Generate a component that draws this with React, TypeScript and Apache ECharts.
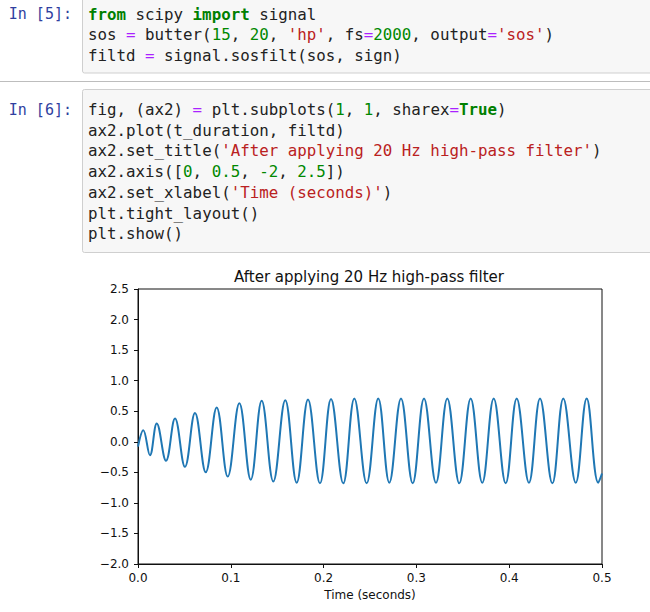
import React, { useEffect, useRef } from "react";
import * as echarts from "echarts";

// Time (s) of each sample (start, alternating peaks/troughs, end)
const timeSec = [
  0, 0.0057, 0.0129, 0.0202, 0.0302, 0.0399, 0.0506, 0.0614, 0.073, 0.0848,
  0.0967, 0.1092, 0.1215, 0.1333, 0.1458, 0.1587, 0.171, 0.1832, 0.1961, 0.208,
  0.2212, 0.2331, 0.2464, 0.2589, 0.2708, 0.2834, 0.296, 0.3082, 0.3211, 0.3333,
  0.3462, 0.3585, 0.371, 0.3833, 0.3962, 0.4081, 0.4213, 0.4332, 0.4465, 0.4583,
  0.4717, 0.4835, 0.496, 0.5,
];
// Filtered signal values at those times
const filtd = [
  -0.08, 0.19, -0.22, 0.3, -0.31, 0.38, -0.41, 0.47, -0.5, 0.56,
  -0.57, 0.63, -0.62, 0.67, -0.65, 0.68, -0.67, 0.69, -0.68, 0.7,
  -0.68, 0.71, -0.68, 0.71, -0.67, 0.71, -0.68, 0.71, -0.67, 0.71,
  -0.68, 0.71, -0.67, 0.71, -0.68, 0.71, -0.67, 0.71, -0.68, 0.71,
  -0.67, 0.71, -0.67, -0.52,
];

const chartTitle = "After applying 20 Hz high-pass filter";
const xAxisLabel = "Time (seconds)";
const xRange = [0, 0.5];
const yRange = [-2, 2.5];

const cell1Prompt = "In [5]:";
const cell1Lines = [
  "{k|from} scipy {k|import} signal",
  "sos {o|=} butter({n|15}, {n|20}, {s|'hp'}, fs{o|=}{n|2000}, output{o|=}{s|'sos'})",
  "filtd {o|=} signal.sosfilt(sos, sign)",
];
const cell2Prompt = "In [6]:";
const cell2Lines = [
  "fig, (ax2) {o|=} plt.subplots({n|1}, {n|1}, sharex{o|=}{k|True})",
  "ax2.plot(t_duration, filtd)",
  "ax2.set_title({s|'After applying 20 Hz high-pass filter'})",
  "ax2.axis([{n|0}, {n|0.5}, {n|-2}, {n|2.5}])",
  "ax2.set_xlabel({s|'Time (seconds)'})",
  "plt.tight_layout()",
  "plt.show()",
];

const MONO = "'DejaVu Sans Mono', 'Liberation Mono', monospace";
const CODE_SIZE = 15.8;
const SANS = "'DejaVu Sans', sans-serif";

function codeRich() {
  const base = { fontFamily: MONO, fontSize: CODE_SIZE };
  return {
    k: { ...base, fill: "#008000", fontWeight: "bold" },
    o: { ...base, fill: "#AA22FF" },
    n: { ...base, fill: "#008800" },
    s: { ...base, fill: "#BA2121" },
  };
}

function codeText(line: string, x: number, y: number) {
  return {
    type: "text",
    x,
    y,
    silent: true,
    style: {
      text: line,
      fontFamily: MONO,
      fontSize: CODE_SIZE,
      fill: "#222",
      verticalAlign: "middle",
      align: "left",
      rich: codeRich(),
    },
  };
}

function promptText(txt: string, y: number) {
  return {
    type: "text",
    x: 72,
    y,
    silent: true,
    style: {
      text: txt,
      fontFamily: MONO,
      fontSize: 15,
      fill: "#303F9F",
      align: "right",
      verticalAlign: "middle",
    },
  };
}

export default function App() {
  const ref = useRef<HTMLDivElement>(null);

  useEffect(() => {
    if (!ref.current) return;
    const chart = echarts.init(ref.current, undefined, { renderer: "svg" });

    const lineH = 20.7;
    const graphics: any[] = [
      {
        type: "rect",
        silent: true,
        shape: { x: 82.5, y: -6, width: 620, height: 79, r: 2 },
        style: { fill: "#f7f7f7", stroke: "#cfcfcf", lineWidth: 1 },
      },
      {
        type: "line",
        silent: true,
        shape: { x1: 0, y1: 81.5, x2: 650, y2: 81.5 },
        style: { stroke: "#bdbdbd", lineWidth: 1.2 },
      },
      {
        type: "rect",
        silent: true,
        shape: { x: 82.5, y: 89.5, width: 620, height: 163, r: 2 },
        style: { fill: "#f7f7f7", stroke: "#cfcfcf", lineWidth: 1 },
      },
      promptText(cell1Prompt, 14),
      promptText(cell2Prompt, 109.5),
      {
        type: "text",
        x: 369,
        y: 277,
        silent: true,
        style: {
          text: chartTitle,
          fontFamily: SANS,
          fontSize: 15,
          fill: "#111",
          align: "center",
          verticalAlign: "middle",
        },
      },
    ];
    cell1Lines.forEach((l, i) => graphics.push(codeText(l, 88, 14 + i * lineH)));
    cell2Lines.forEach((l, i) => graphics.push(codeText(l, 88, 109.5 + i * lineH)));

    const fmt = (v: number) => v.toFixed(1).replace("-", "\u2212");

    chart.setOption({
      animation: false,
      backgroundColor: "#ffffff",
      grid: {
        left: 138,
        top: 289,
        width: 464,
        height: 275,
        show: true,
        borderColor: "#111",
        borderWidth: 1,
        backgroundColor: "transparent",
      },
      xAxis: {
        type: "value",
        min: xRange[0],
        max: xRange[1],
        interval: 0.1,
        name: xAxisLabel,
        nameLocation: "middle",
        nameGap: 25,
        nameTextStyle: { fontFamily: SANS, fontSize: 12, color: "#111" },
        axisLine: { show: true, onZero: false, lineStyle: { color: "#111", width: 1 } },
        axisTick: { show: true, inside: false, length: 4, lineStyle: { color: "#111" } },
        splitLine: { show: false },
        axisLabel: {
          fontFamily: SANS,
          fontSize: 12,
          color: "#111",
          margin: 8,
          formatter: fmt,
        },
      },
      yAxis: {
        type: "value",
        min: yRange[0],
        max: yRange[1],
        interval: 0.5,
        axisLine: { show: true, onZero: false, lineStyle: { color: "#111", width: 1 } },
        axisTick: { show: true, inside: false, length: 4, lineStyle: { color: "#111" } },
        splitLine: { show: false },
        axisLabel: {
          fontFamily: SANS,
          fontSize: 12,
          color: "#111",
          margin: 9,
          formatter: fmt,
        },
      },
      series: [
        {
          type: "line",
          data: timeSec.map((t, i) => [t, filtd[i]]),
          showSymbol: false,
          smooth: 0.4,
          clip: true,
          lineStyle: { color: "#1f77b4", width: 2 },
        },
      ],
      graphic: graphics,
    });

    return () => chart.dispose();
  }, []);

  return (
    <div
      ref={ref}
      style={{ position: "absolute", left: 0, top: 0, width: 650, height: 612 }}
    />
  );
}
